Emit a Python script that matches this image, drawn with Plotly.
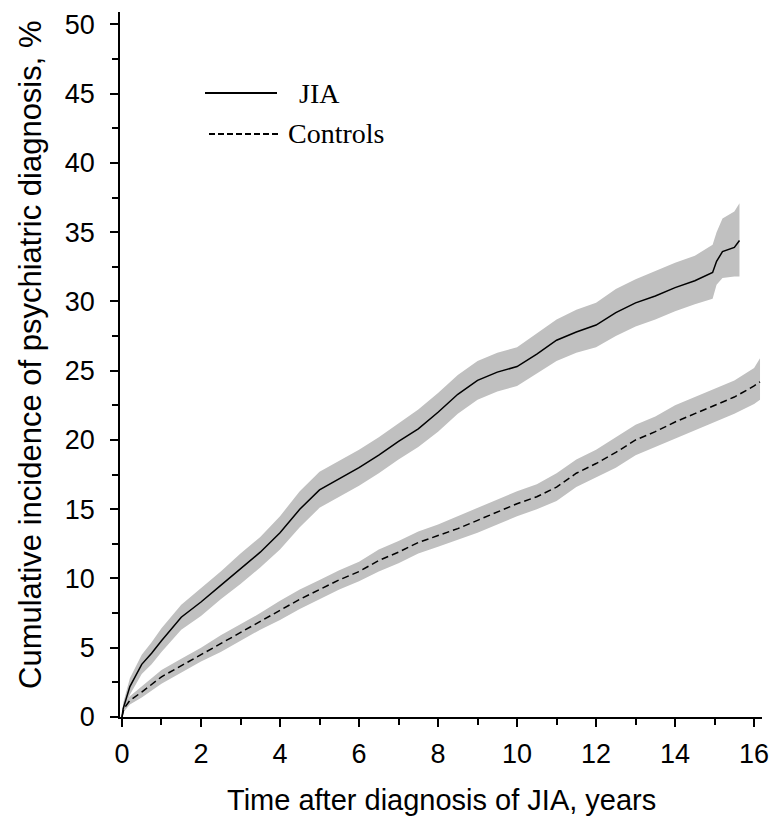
import plotly.graph_objects as go

# ---- data ----
jia_t = [0, 0.03, 0.2, 0.5, 0.75, 1.0, 1.5, 2.0, 2.5, 3.0, 3.5, 4.0, 4.5, 5.0, 5.5, 6.0, 6.5, 7.0,
         7.5, 8.0, 8.5, 9.0, 9.5, 10.0, 10.5, 11.0, 11.5, 12.0, 12.5, 13.0, 13.5, 14.0, 14.5,
         14.95, 15.05, 15.2, 15.5, 15.63]
jia = [0, 0.6, 2.2, 3.8, 4.6, 5.5, 7.2, 8.3, 9.5, 10.7, 11.9, 13.3, 15.0, 16.4, 17.2, 18.0, 18.9,
       19.9, 20.8, 22.0, 23.3, 24.3, 24.9, 25.3, 26.2, 27.2, 27.8, 28.3, 29.2, 29.9, 30.4, 31.0,
       31.5, 32.1, 32.9, 33.6, 33.9, 34.4]
jia_lo = [0, 0.3, 1.6, 3.1, 3.8, 4.7, 6.3, 7.3, 8.5, 9.6, 10.8, 12.1, 13.7, 15.1, 15.9, 16.7, 17.6,
          18.6, 19.5, 20.6, 21.9, 22.9, 23.5, 23.9, 24.8, 25.7, 26.3, 26.7, 27.5, 28.2, 28.7, 29.3,
          29.8, 30.2, 31.2, 31.7, 31.8, 31.8]
jia_hi = [0, 1.0, 2.8, 4.5, 5.4, 6.4, 8.1, 9.3, 10.5, 11.8, 13.0, 14.5, 16.3, 17.7, 18.5, 19.3, 20.2,
          21.2, 22.2, 23.4, 24.7, 25.7, 26.3, 26.7, 27.7, 28.7, 29.4, 29.9, 30.9, 31.6, 32.2, 32.8,
          33.3, 34.1, 35.0, 36.0, 36.5, 37.1]

ctl_t = [0, 0.05, 0.2, 0.5, 1.0, 1.5, 2.0, 2.5, 3.0, 3.5, 4.0, 4.5, 5.0, 5.5, 6.0, 6.5, 7.0, 7.5,
         8.0, 8.5, 9.0, 9.5, 10.0, 10.5, 11.0, 11.5, 12.0, 12.5, 13.0, 13.5, 14.0, 14.5, 15.0,
         15.5, 16.0, 16.15]
ctl = [0, 0.6, 1.2, 1.8, 2.9, 3.7, 4.5, 5.3, 6.1, 6.9, 7.7, 8.5, 9.2, 9.9, 10.5, 11.3, 11.9, 12.6,
       13.1, 13.6, 14.2, 14.8, 15.4, 15.9, 16.6, 17.6, 18.3, 19.1, 20.0, 20.6, 21.3, 21.9, 22.5,
       23.1, 23.9, 24.2]
ctl_lo = [0, 0.4, 0.9, 1.4, 2.4, 3.2, 4.0, 4.7, 5.5, 6.3, 7.0, 7.8, 8.5, 9.2, 9.8, 10.5, 11.1, 11.8,
          12.3, 12.8, 13.3, 13.9, 14.5, 15.0, 15.6, 16.6, 17.3, 18.0, 18.9, 19.5, 20.1, 20.7, 21.3,
          21.9, 22.6, 22.9]
ctl_hi = [0, 0.8, 1.5, 2.2, 3.4, 4.2, 5.0, 5.9, 6.7, 7.5, 8.4, 9.2, 9.9, 10.6, 11.2, 12.1, 12.7,
          13.4, 13.9, 14.5, 15.1, 15.7, 16.3, 16.8, 17.6, 18.6, 19.3, 20.2, 21.1, 21.7, 22.5, 23.1,
          23.7, 24.3, 25.2, 25.9]

x_ticks = [0, 2, 4, 6, 8, 10, 12, 14, 16]
y_ticks = [0, 5, 10, 15, 20, 25, 30, 35, 40, 45, 50]

x_title = "Time after diagnosis of JIA, years"
y_title = "Cumulative incidence of psychiatric diagnosis, %"
legend_labels = ["JIA", "Controls"]

BAND = "rgb(192,192,192)"
SANS = "Liberation Sans, Arial, sans-serif"
SERIF = "Liberation Serif, Times New Roman, serif"

W, H = 770, 816
ML, MR, MT, MB = 120, 8, 12, 99
PW, PH = W - ML - MR, H - MT - MB

fig = go.Figure()

# confidence bands
for t, lo, hi in [(jia_t, jia_lo, jia_hi), (ctl_t, ctl_lo, ctl_hi)]:
    fig.add_trace(go.Scatter(x=t, y=lo, mode="lines", line=dict(width=0, color=BAND),
                             showlegend=False, hoverinfo="skip"))
    fig.add_trace(go.Scatter(x=t, y=hi, mode="lines", line=dict(width=0, color=BAND),
                             fill="tonexty", fillcolor=BAND, showlegend=False, hoverinfo="skip"))

# curves
fig.add_trace(go.Scatter(x=jia_t, y=jia, mode="lines", name=legend_labels[0],
                         line=dict(color="black", width=1.5), showlegend=False))
fig.add_trace(go.Scatter(x=ctl_t, y=ctl, mode="lines", name=legend_labels[1],
                         line=dict(color="black", width=1.5, dash="7px,4px"), showlegend=False))

axis_common = dict(showline=True, linecolor="black", linewidth=1.5, ticks="outside",
                   tickcolor="black", tickwidth=1.5, ticklen=8, showgrid=False, zeroline=False,
                   automargin=False, ticklabeloverflow="allow",
                   tickfont=dict(family=SANS, size=27, color="black"))

fig.update_xaxes(range=[-0.05, 16.2], tickvals=x_ticks, ticktext=[str(v) for v in x_ticks],
                 minor=dict(dtick=1, tick0=0, ticks="outside", ticklen=6, tickcolor="black",
                            tickwidth=1.5, showgrid=False),
                 ticklabelstandoff=4, **axis_common)
fig.update_yaxes(range=[0, 50.9], tickvals=y_ticks, ticktext=[str(v) for v in y_ticks],
                 minor=dict(dtick=2.5, tick0=0, ticks="outside", ticklen=6, tickcolor="black",
                            tickwidth=1.5, showgrid=False),
                 ticklabelstandoff=10, **axis_common)


def px_x(p):
    return (p - ML) / float(PW)


def px_y(p):
    return (H - MB - p) / float(PH)


# axis titles
fig.add_annotation(text=x_title, xref="paper", yref="paper", x=px_x(442), y=px_y(800),
                   xanchor="center", yanchor="middle", showarrow=False,
                   font=dict(family=SANS, size=29, color="black"))
fig.add_annotation(text=y_title, xref="paper", yref="paper", x=px_x(30), y=px_y(355),
                   xanchor="center", yanchor="middle", textangle=-90, showarrow=False,
                   font=dict(family=SANS, size=31, color="black"))

# legend (drawn manually)
fig.add_shape(type="line", xref="paper", yref="paper", x0=px_x(205), x1=px_x(277),
              y0=px_y(93), y1=px_y(93), line=dict(color="black", width=2))
fig.add_shape(type="line", xref="paper", yref="paper", x0=px_x(209), x1=px_x(281),
              y0=px_y(134), y1=px_y(134), line=dict(color="black", width=2, dash="6px,3px"))
fig.add_annotation(text=legend_labels[0], xref="paper", yref="paper", x=px_x(297), y=px_y(94),
                   xanchor="left", yanchor="middle", showarrow=False,
                   font=dict(family=SERIF, size=28, color="black"))
fig.add_annotation(text=legend_labels[1], xref="paper", yref="paper", x=px_x(286), y=px_y(133),
                   xanchor="left", yanchor="middle", showarrow=False,
                   font=dict(family=SERIF, size=28, color="black"))

fig.update_layout(width=W, height=H, margin=dict(l=ML, r=MR, t=MT, b=MB),
                  plot_bgcolor="white", paper_bgcolor="white", showlegend=False)

fig.write_html("out.html", config={"displayModeBar": False},
               post_script="document.body.style.margin='0px';document.body.style.padding='0px';")
